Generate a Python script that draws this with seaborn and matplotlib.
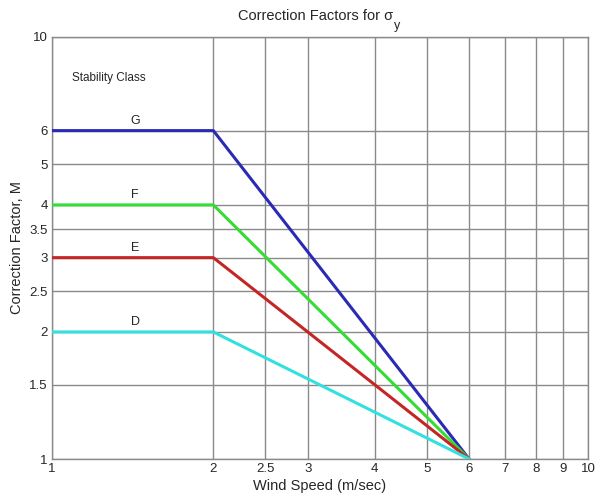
import pandas as pd
import seaborn as sns
import matplotlib.pyplot as plt
from matplotlib.ticker import FixedLocator, NullLocator, FixedFormatter

wind = [1, 2, 6]
classes = ['G', 'F', 'E', 'D']
factors = {
    'G': [6, 6, 1],
    'F': [4, 4, 1],
    'E': [3, 3, 1],
    'D': [2, 2, 1],
}
colors = {'G': '#2a2ab4', 'F': '#33dd33', 'E': '#c42626', 'D': '#33e0e0'}
label_y = {'G': 6, 'F': 4, 'E': 3, 'D': 2}

x_ticks = [1, 2, 2.5, 3, 4, 5, 6, 7, 8, 9, 10]
x_labels = ['1', '2', '2.5', '3', '4', '5', '6', '7', '8', '9', '10']
y_ticks = [1, 1.5, 2, 2.5, 3, 3.5, 4, 5, 6, 10]
y_labels = ['1', '1.5', '2', '2.5', '3', '3.5', '4', '5', '6', '10']

rows = []
for c in classes:
    for w, m in zip(wind, factors[c]):
        rows.append({'wind': w, 'M': m, 'cls': c})
df = pd.DataFrame(rows)

sns.set_style('white')
plt.rcParams['font.family'] = ['Liberation Sans', 'DejaVu Sans']

fig = plt.figure(figsize=(5.95, 4.95), dpi=100)
ax = fig.add_axes([52 / 595, 1 - 459 / 495, 536 / 595, 422 / 495])
ax.set_xscale('log')
ax.set_yscale('log')

sns.lineplot(data=df, x='wind', y='M', hue='cls', palette=colors,
             linewidth=2.2, legend=False, ax=ax, zorder=3)

ax.set_xlim(1, 10)
ax.set_ylim(1, 10)
ax.xaxis.set_major_locator(FixedLocator(x_ticks))
ax.xaxis.set_major_formatter(FixedFormatter(x_labels))
ax.xaxis.set_minor_locator(NullLocator())
ax.yaxis.set_major_locator(FixedLocator(y_ticks))
ax.yaxis.set_major_formatter(FixedFormatter(y_labels))
ax.yaxis.set_minor_locator(NullLocator())
ax.grid(True, color='#8a8a8a', linewidth=1)
ax.set_axisbelow(True)
ax.tick_params(length=0, labelsize=9.5, pad=3)
for s in ax.spines.values():
    s.set_color('#8a8a8a')
    s.set_linewidth(1)

for c in classes:
    ax.text(1.43, label_y[c] * 1.02, c, ha='center', va='bottom', fontsize=9)
ax.text(1.09, 8.0, 'Stability Class', ha='left', va='center', fontsize=8.5)

ax.set_xlabel('Wind Speed (m/sec)', fontsize=10.5, labelpad=3)
ax.set_ylabel('Correction Factor, M', fontsize=10.5, labelpad=4)

# title with a low subscript, like the original
t = fig.text(316 / 595, 1 - 16 / 495, 'Correction Factors for \u03c3',
             ha='center', va='center', fontsize=10.5)
ax.annotate('y', xy=(1, 0), xycoords=t, xytext=(0.5, 2),
            textcoords='offset points', ha='left', va='top', fontsize=9)

fig.savefig('out.png', dpi=100)
